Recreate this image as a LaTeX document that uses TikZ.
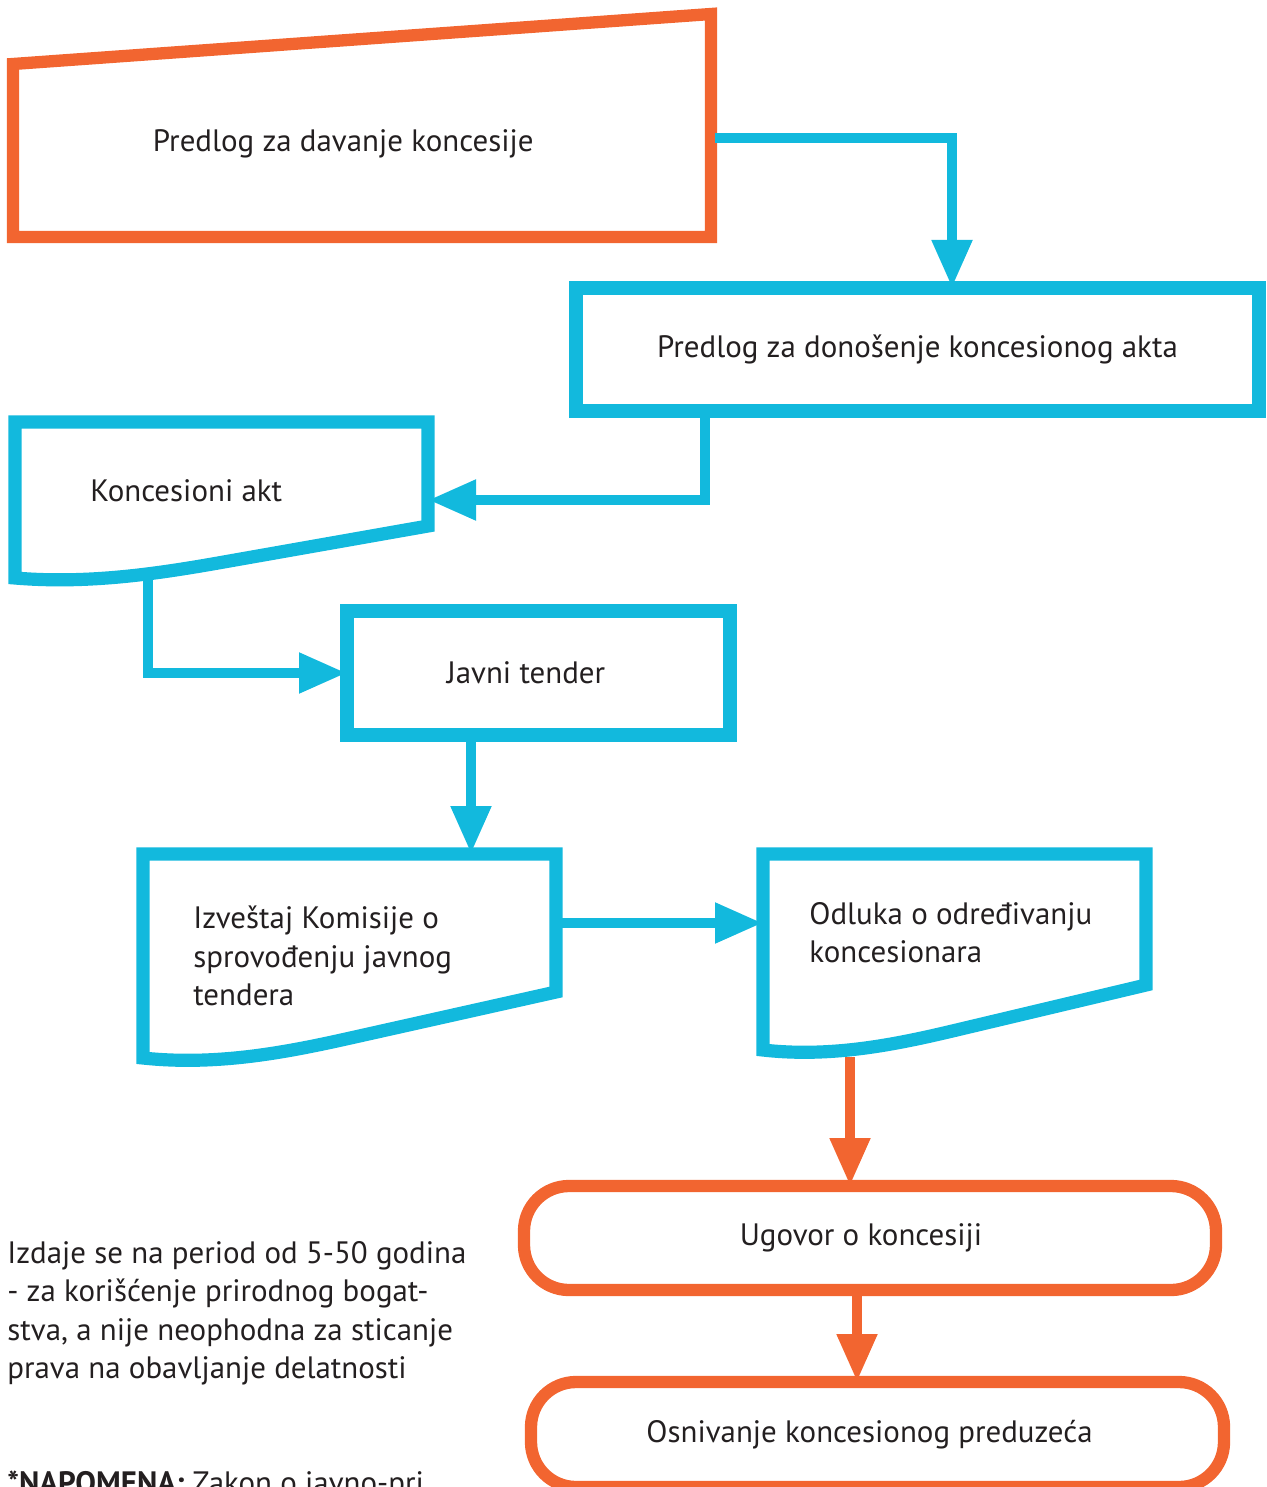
\documentclass[tikz,border=0pt]{standalone}
\usepackage{fontspec}
\setmainfont{PT Sans}
\usepackage{tikz}
\usetikzlibrary{
	arrows.meta,
	positioning,
	calc
}
\definecolor{frameblue}{HTML}{12B9DD}
\definecolor{frameorange}{HTML}{F26530}
\definecolor{inkgray}{HTML}{231F20}

\begin{document}
\begin{tikzpicture}[
        >={Triangle[length=0.96cm,width=0.76cm]},
        font=\fontsize{17.6}{21.8}\selectfont,
        % okviri (frames)
        bluefrm/.style={draw=frameblue, line width=7.5pt},
        orangefrm/.style={draw=frameorange, line width=7pt},
        box/.style={
            rectangle, bluefrm,
            align=center, text=inkgray,
            inner sep=0pt, outer sep=0pt
        },
        roundbox/.style={
            rectangle, orangefrm, rounded corners=0.9cm,
            align=center, text=inkgray,
            inner sep=0pt, outer sep=0pt
        },
        % trapez, gornja desna ivica podignuta za #1
        slantbox/.style={
            rectangle, align=center, text=inkgray,
            inner sep=0pt, outer sep=0pt,
            append after command={\pgfextra{
                \draw[orangefrm]
                    (\tikzlastnode.north west) --
                    ([yshift=#1]\tikzlastnode.north east) --
                    (\tikzlastnode.south east) --
                    (\tikzlastnode.south west) -- cycle;
            }}
        },
        % dokument sa talasastim dnom, pad levog ugla #1
        docbox/.style={
            rectangle, inner sep=0pt, outer sep=0pt,
            append after command={\pgfextra{
                \draw[bluefrm]
                    ($(\tikzlastnode.south west)!0.5!(\tikzlastnode.south east)+(0,-0.7*#1)$) --
                    (\tikzlastnode.south east) --
                    (\tikzlastnode.north east) --
                    (\tikzlastnode.north west) --
                    ($(\tikzlastnode.south west)+(0,-#1)$)
                    .. controls ($(\tikzlastnode.south west)!0.18!(\tikzlastnode.south east)+(0,-1.12*#1)$)
                    and ($(\tikzlastnode.south west)!0.35!(\tikzlastnode.south east)+(0,-0.91*#1)$) ..
                    cycle;
            }}
        },
        txt/.style={text=inkgray, align=left, inner sep=0pt},
        conn/.style={->, draw=frameblue, line width=6.2pt},
        connor/.style={->, draw=frameorange, line width=6.2pt}
    ]

        \useasboundingbox (0,0) rectangle (25.32,-29.74);

        % ====================
        % Okviri (Frames)
        % ====================

        \node[slantbox=1.0cm, minimum width=13.96cm, minimum height=3.46cm] (P1) at (7.24,-3.01)
            {Predlog za davanje koncesije\hspace*{0.75cm}\\[-0.37cm]};

        \node[box, minimum width=13.66cm, minimum height=2.46cm] (P2) at (18.35,-6.99)
            {Predlog za donošenje koncesionog akta};

        \node[docbox=1.04cm, minimum width=8.26cm, minimum height=2.08cm] (akt) at (4.43,-9.48) {};
        \node[txt, anchor=west] (akt-t) at (1.8,-9.82) {Koncesioni akt};

        \node[box, minimum width=7.66cm, minimum height=2.48cm] (tender) at (10.77,-13.46)
            {Javni tender\hspace*{0.5cm}};

        \node[docbox=1.32cm, minimum width=8.26cm, minimum height=2.76cm] (izv) at (6.99,-18.46) {};
        \node[txt, anchor=west] (izv-t) at (3.86,-19.12)
            {Izveštaj Komisije o\\sprovođenju javnog\\tendera};

        \node[docbox=1.3cm, minimum width=7.66cm, minimum height=2.62cm] (odl) at (19.09,-18.39) {};
        \node[txt, anchor=west] (odl-t) at (16.18,-18.66)
            {Odluka o određivanju\\koncesionara};

        \node[roundbox, minimum width=13.84cm, minimum height=2.08cm] (ugovor) at (17.4,-24.76)
            {Ugovor o koncesiji\hspace*{0.36cm}};

        \node[roundbox, minimum width=13.86cm, minimum height=2.1cm] (osniv) at (17.55,-28.69)
            {Osnivanje koncesionog preduzeća\hspace*{0.32cm}};

        % ====================
        % Napomene (Notes)
        % ====================

        \node[txt, anchor=north west] (note) at (0.14,-24.82)
            {Izdaje se na period od 5-50 godina\\- za korišćenje prirodnog bogat-\\stva, a nije neophodna za sticanje\\prava na obavljanje delatnosti};

        \node[txt, anchor=base west] (napomena) at (0.14,-29.86)
            {\textbf{*NAPOMENA:} Zakon o javno-pri};

        % ====================
        % Veze (Connections)
        % ====================

        \draw[conn] ([xshift=0.07cm,yshift=0.25cm]P1.east) -| ([xshift=0.69cm]P2.north);
        \draw[conn] ([xshift=-4.25cm]P2.south) |- ([yshift=-0.52cm]akt.east);
        \draw[conn] ([xshift=-1.47cm,yshift=-1.0cm]akt.south) |- (tender.west);
        \draw[conn] ([xshift=-1.35cm]tender.south) coordinate (t1) -- (t1 |- izv.north);
        \draw[conn] (izv.east) -- (izv.east -| odl.west);

        \draw[connor] ([xshift=-2.09cm,yshift=-1.44cm]odl.south) coordinate (o1) -- (o1 |- ugovor.north);
        \draw[connor] ([xshift=-0.26cm]ugovor.south) coordinate (u1) -- (u1 |- osniv.north);

    \end{tikzpicture}
\end{document}
